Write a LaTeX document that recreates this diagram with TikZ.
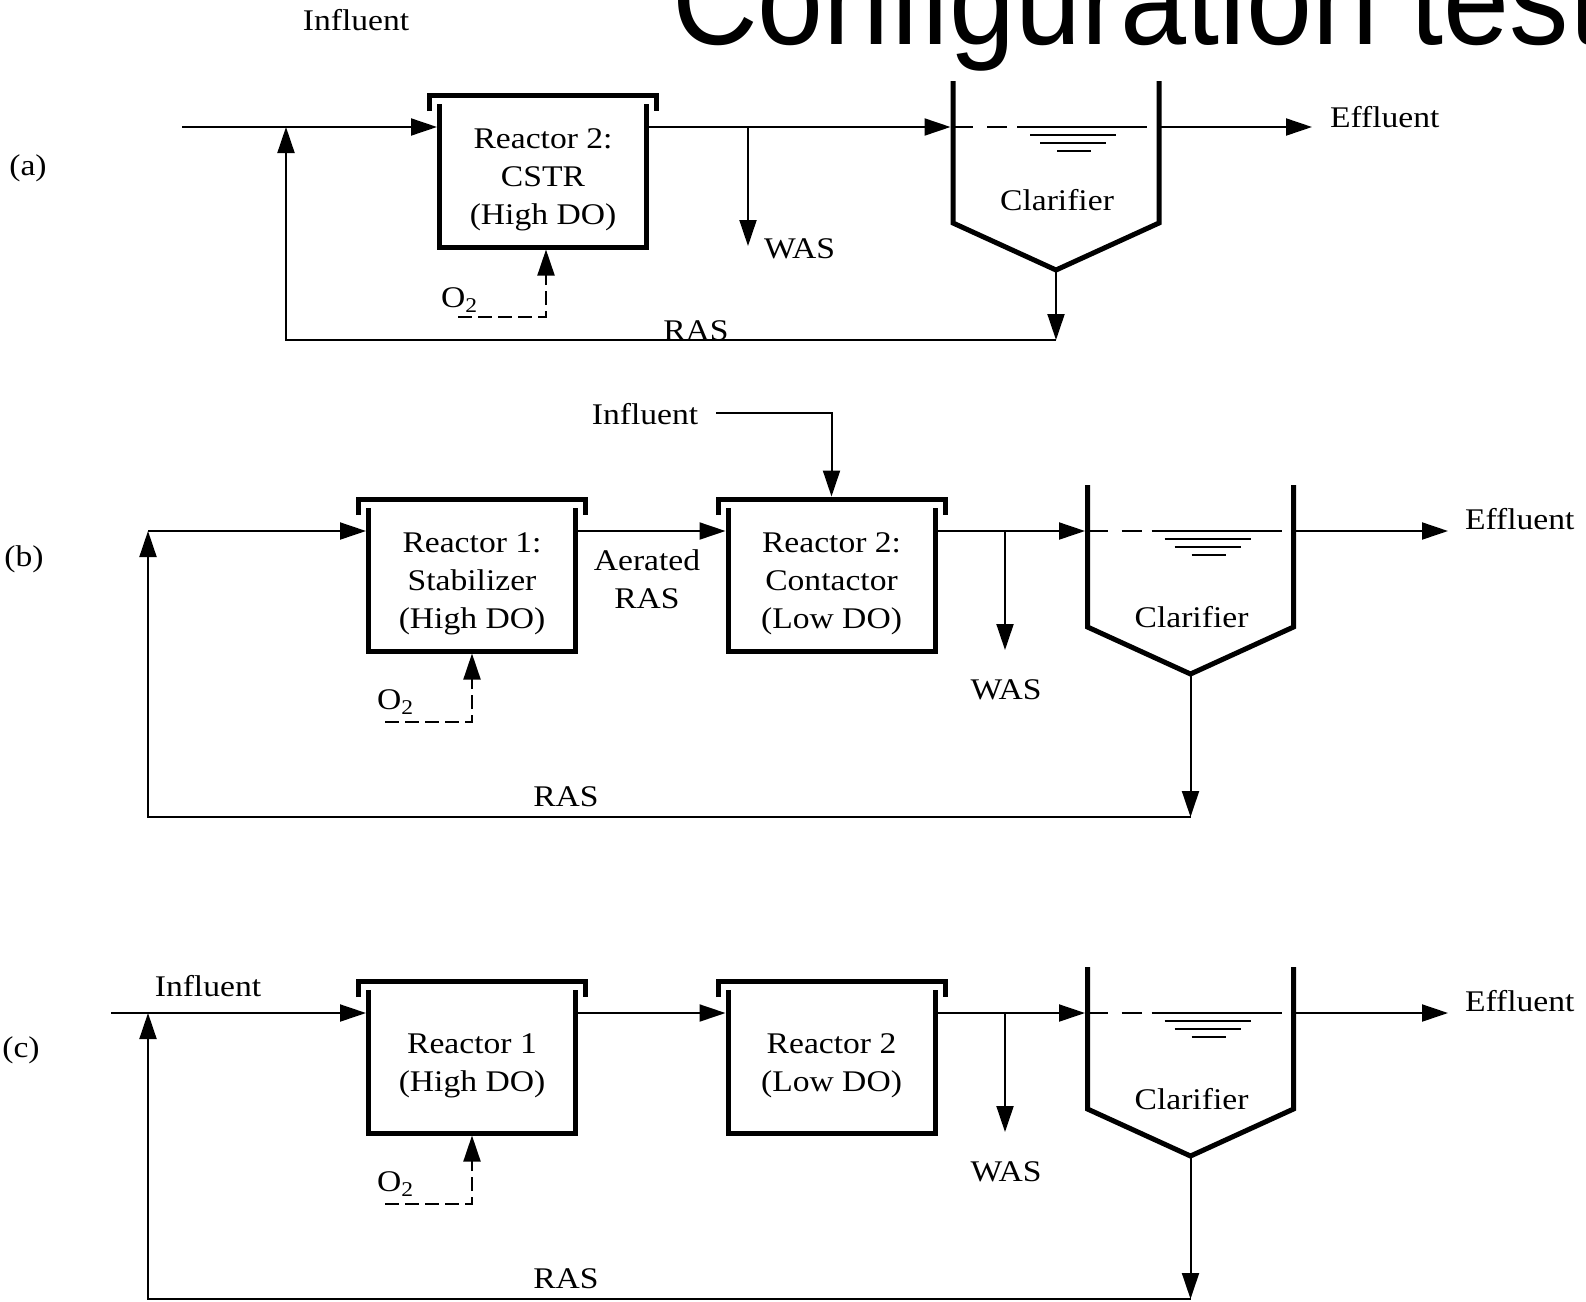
\documentclass[tikz,border=0pt]{standalone}
\usepackage{fontspec}
\setmainfont{Liberation Serif}[FakeStretch=1.12]
\newfontfamily\titlefont{Liberation Sans}[FakeStretch=0.92]
\usepackage{tikz}
\usetikzlibrary{arrows.meta}
\newcommand{\lbfont}{\fontsize{30}{38}\selectfont}
\newcommand{\tallline}{\rule{0pt}{28pt}}
\tikzstyle{wall}=[line width=5pt,line join=miter]
\tikzstyle{pipe}=[draw,line width=2pt]
\tikzstyle{lbl}=[inner sep=0pt,outer sep=0pt,font=\lbfont]
\tikzstyle{reactor}=[minimum width=207pt,minimum height=143pt,inner sep=0pt,outer sep=0pt,align=center,font=\lbfont]
\tikzstyle{settler}=[minimum width=206pt,minimum height=142pt,inner sep=0pt,outer sep=0pt]
% open tank with a lid over it
\newcommand{\reactorwalls}[1]{%
  \draw[wall] (#1.north west) -- (#1.south west) -- (#1.south east) -- (#1.north east);
  \draw[wall] ([shift={(-10,7)}]#1.north west) -- ([shift={(-10,-9)}]#1.north west)
    -- ([shift={(10,-9)}]#1.north east) -- ([shift={(10,7)}]#1.north east);}
% clarifier: name, centre x, water level, text offset
\newcommand{\clarifier}[4]{%
  \node[settler] (#1) at (#2,#3+25) {};
  \coordinate (#1-apex) at (#2,#3+143);
  \draw[wall] (#1.north west) -- (#1.south west) -- (#1-apex) -- (#1.south east) -- (#1.north east);
  \draw[line width=2pt,dash pattern=on 20pt off 14pt] (#2-103,#3) -- (#2+91,#3);
  \draw[line width=2pt] (#2-39,#3) -- (#2+91,#3);
  \draw[line width=2pt] (#2-26,#3+8) -- (#2+60,#3+8);
  \draw[line width=2pt] (#2-16,#3+16) -- (#2+50,#3+16);
  \draw[line width=2pt] (#2+1,#3+24) -- (#2+35,#3+24);
  \node[lbl] (#1-txt) at (#2+1,#3+#4) {Clarifier};}

\begin{document}
\begin{tikzpicture}[x=1pt,y=-1pt,>={Triangle[length=26pt,width=17pt]}]
  \tikzset{flow/.style={pipe,->}, air/.style={pipe,->,dash pattern=on 14pt off 6pt}}
  \useasboundingbox (0,0) rectangle (1586,1301);
  \clip (0,0) rectangle (1586,1301);
  \node[anchor=base west,inner sep=0pt] (title) at (672,44) {\titlefont\fontsize{129}{129}\selectfont Configuration test};

  % (a)
  \node[lbl,anchor=base] (a-tag) at (28,175) {(a)};
  \node[lbl,anchor=base] (a-inf) at (356,30) {Influent};
  \coordinate (a-in) at (182,127);
  \coordinate (a-ras) at (286,340);
  \coordinate (a-was) at (748,127);
  \coordinate (a-wasend) at (748,246);
  \coordinate (a-o2) at (458,317);
  \coordinate (a-eff) at (1312,127);
  \node[reactor] (ra) at (543,175.5) {\tallline Reactor 2:\\CSTR\\(High DO)};
  \reactorwalls{ra}
  \clarifier{ca}{1056}{127}{73}
  \draw[flow,shorten >=2.5pt] (a-in) -- (a-in -| ra.west);
  \draw[flow,shorten >=2.5pt] (a-in -| ra.east) -- (a-in -| ca.west);
  \draw[flow] (a-was) -- (a-wasend);
  \draw[flow] (a-in -| ca.east) -- (a-eff);
  \draw[flow] (ca-apex) -- (ca-apex |- a-ras);
  \draw[flow] (ca-apex |- a-ras) -- (a-ras) -- (a-in -| a-ras);
  \draw[air,shorten >=2.5pt] (a-o2) -| ([xshift=3pt]ra.south);
  \node[lbl,anchor=base west] (a-o2txt) at (441,307) {O\textsubscript{2}};
  \node[lbl,anchor=base west] (a-wastxt) at (764,258) {WAS};
  \node[lbl,anchor=base] (a-rastxt) at (696,340) {RAS};
  \node[lbl,anchor=base west] (a-efftxt) at (1330,127) {Effluent};

  % (b)
  \node[lbl,anchor=base] (b-tag) at (24,566) {(b)};
  \node[lbl,anchor=base] (b-inf) at (645,424) {Influent};
  \coordinate (b-feed) at (716,413);
  \coordinate (b-in) at (148,531);
  \coordinate (b-ras) at (148,817);
  \coordinate (b-was) at (1005,531);
  \coordinate (b-wasend) at (1005,650);
  \coordinate (b-o2) at (385,722);
  \coordinate (b-eff) at (1448,531);
  \node[reactor] (rb1) at (472,579.5) {\tallline Reactor 1:\\Stabilizer\\(High DO)};
  \node[reactor] (rb2) at (831.5,579.5) {\tallline Reactor 2:\\Contactor\\(Low DO)};
  \reactorwalls{rb1}
  \reactorwalls{rb2}
  \clarifier{cb}{1190.5}{531}{86}
  \draw[flow,shorten >=2.5pt] (b-feed) -| ([yshift=9pt]rb2.north);
  \draw[flow] (cb-apex) -- (cb-apex |- b-ras);
  \draw[flow] (cb-apex |- b-ras) -- (b-ras) -- (b-in);
  \draw[flow,shorten >=2.5pt] (b-in) -- (b-in -| rb1.west);
  \draw[flow,shorten >=2.5pt] (b-in -| rb1.east) -- (b-in -| rb2.west);
  \draw[flow,shorten >=2.5pt] (b-in -| rb2.east) -- (b-in -| cb.west);
  \draw[flow] (b-was) -- (b-wasend);
  \draw[flow] (b-in -| cb.east) -- (b-eff);
  \draw[air,shorten >=2.5pt] (b-o2) -| (rb1.south);
  \node[lbl,align=center] (b-aer) at (647,579) {Aerated\\RAS};
  \node[lbl,anchor=base west] (b-o2txt) at (377,709) {O\textsubscript{2}};
  \node[lbl,anchor=base] (b-wastxt) at (1006,699) {WAS};
  \node[lbl,anchor=base] (b-rastxt) at (566,806) {RAS};
  \node[lbl,anchor=base west] (b-efftxt) at (1465,529) {Effluent};

  % (c)
  \node[lbl,anchor=base] (c-tag) at (21,1057) {(c)};
  \node[lbl,anchor=base] (c-inf) at (208,996) {Influent};
  \coordinate (c-in) at (111,1013);
  \coordinate (c-ras) at (148,1299);
  \coordinate (c-was) at (1005,1013);
  \coordinate (c-wasend) at (1005,1132);
  \coordinate (c-o2) at (385,1204);
  \coordinate (c-eff) at (1448,1013);
  \node[reactor] (rc1) at (472,1061.5) {\tallline Reactor 1\\(High DO)};
  \node[reactor] (rc2) at (831.5,1061.5) {\tallline Reactor 2\\(Low DO)};
  \reactorwalls{rc1}
  \reactorwalls{rc2}
  \clarifier{cc}{1190.5}{1013}{86}
  \draw[flow,shorten >=2.5pt] (c-in) -- (c-in -| rc1.west);
  \draw[flow] (cc-apex) -- (cc-apex |- c-ras);
  \draw[flow] (cc-apex |- c-ras) -- (c-ras) -- (c-in -| c-ras);
  \draw[flow,shorten >=2.5pt] (c-in -| rc1.east) -- (c-in -| rc2.west);
  \draw[flow,shorten >=2.5pt] (c-in -| rc2.east) -- (c-in -| cc.west);
  \draw[flow] (c-was) -- (c-wasend);
  \draw[flow] (c-in -| cc.east) -- (c-eff);
  \draw[air,shorten >=2.5pt] (c-o2) -| (rc1.south);
  \node[lbl,anchor=base west] (c-o2txt) at (377,1191) {O\textsubscript{2}};
  \node[lbl,anchor=base] (c-wastxt) at (1006,1181) {WAS};
  \node[lbl,anchor=base] (c-rastxt) at (566,1288) {RAS};
  \node[lbl,anchor=base west] (c-efftxt) at (1465,1011) {Effluent};
\end{tikzpicture}
\end{document}
